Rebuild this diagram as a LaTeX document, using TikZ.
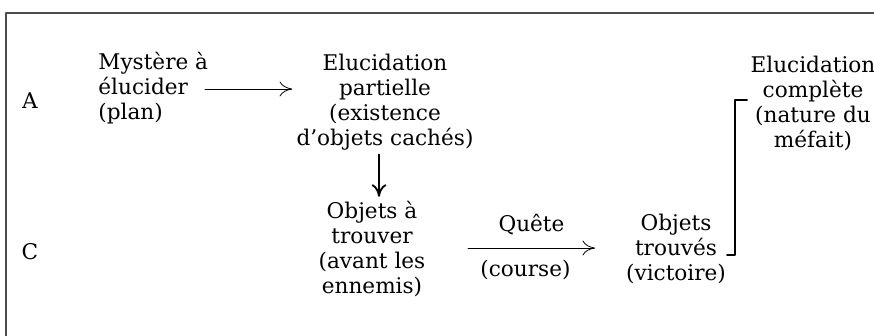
\documentclass[tikz,border=0pt]{standalone}
\usepackage{fontspec}
\setmainfont{DejaVu Serif}
\usetikzlibrary{arrows.meta,calc}

\begin{document}
\begin{tikzpicture}[x=0.5pt, y=-0.5pt, line cap=round, line join=round,
    >={To[length=2.2mm,width=2.6mm]},
    word/.style={align=center, inner sep=2pt, font=\fontsize{10.8}{12.5}\selectfont}]
  \useasboundingbox (0,0) rectangle (874,336);

  % Frame: top rule and left rule
  \draw[gray!60!black, line width=1pt] (6,336) -- (6,13) -- (874,13);

  % Row letters
  \node[word] (rowA) at (30,101) {A};
  \node[word] (rowC) at (30,252) {C};

  % Stages
  \node[word, align=left, anchor=west] (mystery) at (94,88) {Mystère à\\élucider\\(plan)};
  \node[word] (partial) at (385,102) {Elucidation\\partielle\\(existence\\d'objets cachés)};
  \node[word] (tofind) at (372,249) {Objets à\\trouver\\(avant les\\ennemis)};
  \node[word] (found) at (676,249) {Objets\\trouvés\\(victoire)};
  \node[word] (complete) at (813,103) {Elucidation\\complète\\(nature du\\méfait)};

  % Mystery -> partial elucidation
  \coordinate (plan-out) at (205,89);
  \draw[->, thin] (plan-out) -- (plan-out -| partial.west);

  % Partial elucidation -> objects to find
  \draw[->, line width=0.9pt] ([xshift=-3pt]partial.south) -- ([xshift=-3pt]partial.south |- tofind.north);

  % Quest (race)
  \coordinate (quest-in) at (468,248);
  \coordinate (quest-out) at (595,248);
  \draw[->, thin] (quest-in) -- (quest-out)
    node[word, midway, above=4.5pt] (quest) {Quête}
    node[word, midway, below=4pt, xshift=-3pt] (course) {(course)};

  % Bracket: objects found -> complete elucidation
  \coordinate (brk-low) at (727,255);
  \coordinate (brk-high) at (747,100);
  \draw[line width=1pt] (brk-low) -- ++(8,0) |- (brk-high);
\end{tikzpicture}
\end{document}
